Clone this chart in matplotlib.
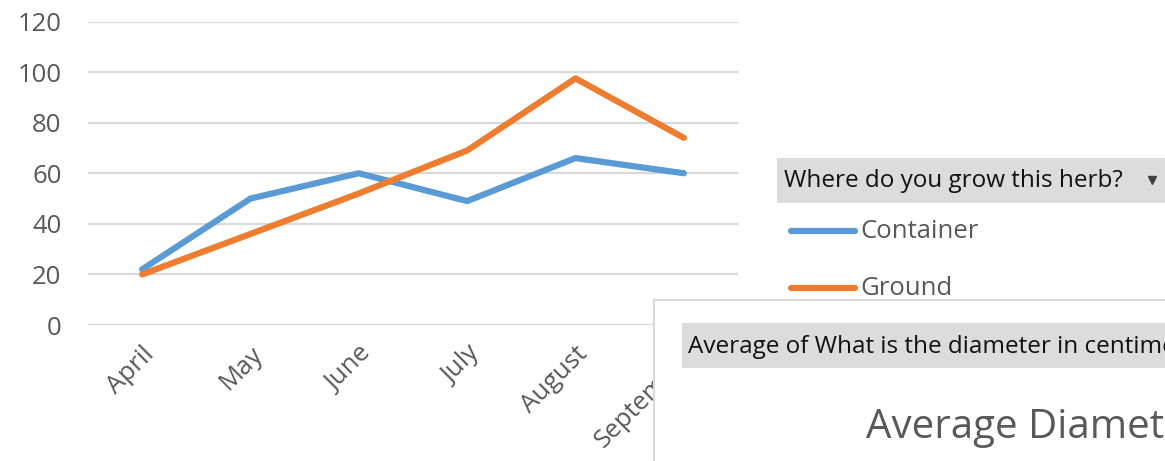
import numpy as np
import matplotlib.pyplot as plt
from matplotlib.patches import Rectangle

months = ['April', 'May', 'June', 'July', 'August', 'September']
container = [22, 50, 60, 49, 66, 60]
ground = [20, 36, 52, 69, 97.5, 74]
y_ticks = [0, 20, 40, 60, 80, 100, 120]
legend_title = 'Where do you grow this herb?'
series_names = ['Container', 'Ground']
second_header = 'Average of What is the diameter in centimeters of the herb?'
second_title = 'Average Diameter'

plt.rcParams['font.family'] = ['Open Sans', 'DejaVu Sans']

W, H = 1165, 461
fig = plt.figure(figsize=(W / 100, H / 100), dpi=100)

# main chart area (pixel box 88..738 x 21.5..325)
ax = fig.add_axes([88 / W, 1 - 325 / H, (738 - 88) / W, (325 - 21.5) / H])
x = np.arange(len(months))
ax.plot(x, container, color='#5B9BD5', linewidth=4.5, solid_capstyle='round',
        solid_joinstyle='round', zorder=3)
ax.plot(x, ground, color='#ED7D31', linewidth=4.5, solid_capstyle='round',
        solid_joinstyle='round', zorder=3)
ax.set_xlim(-0.5, len(months) - 0.5)
ax.set_ylim(0, 120)
ax.set_yticks(y_ticks)
ax.grid(axis='y', color='#d9d9d9', linewidth=1.6)
ax.set_axisbelow(True)
for s in ax.spines.values():
    s.set_visible(False)
ax.tick_params(length=0, colors='#595959', labelsize=18.5)
ax.tick_params(axis='y', pad=19)
ax.set_xticks(x)
ax.set_xticklabels(months, rotation=45, ha='right', rotation_mode='anchor')
ax.tick_params(axis='x', pad=12)

# overlay layer in pixel coordinates: legend and the second chart on top
ov = fig.add_axes([0, 0, 1, 1], zorder=10)
ov.set_xlim(0, W)
ov.set_ylim(H, 0)
ov.set_axis_off()
ov.patch.set_visible(False)

ov.add_patch(Rectangle((777, 158), 400, 45, facecolor='#dcdcdc', edgecolor='none'))
ov.text(784, 181, legend_title, fontsize=17.5, color='#111111', va='center', ha='left')
ov.plot([1152], [180], marker='v', markersize=6, color='#404040')

leg_colors = ['#5B9BD5', '#ED7D31']
for i, (name, c) in enumerate(zip(series_names, leg_colors)):
    yy = 231 + i * 57
    ov.plot([791, 855], [yy, yy], color=c, linewidth=4.5, solid_capstyle='round')
    ov.text(860, yy, name, fontsize=18.5, color='#595959', va='center', ha='left')

ov.add_patch(Rectangle((654, 300), 600, 200, facecolor='white', edgecolor='#d9d9d9',
                       linewidth=1.5))
ov.add_patch(Rectangle((682, 323), 600, 45, facecolor='#dcdcdc', edgecolor='none'))
ov.text(688, 347, second_header, fontsize=17.5, color='#111111', va='center', ha='left')
ov.text(866, 428, second_title, fontsize=29, color='#595959', va='center', ha='left')

fig.savefig('out.png', dpi=100)
